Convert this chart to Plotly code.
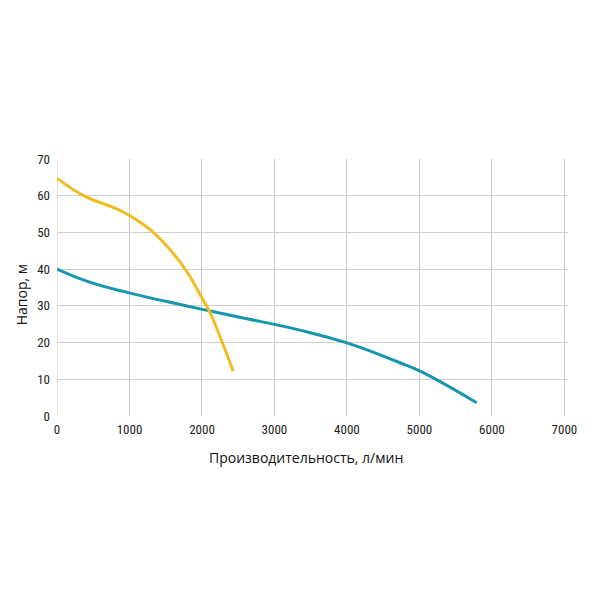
import plotly.graph_objects as go

# Pump curve A (yellow)
flow_a = [0, 380, 800, 1000, 1300, 1560, 1790, 1970, 2110, 2250, 2430]
head_a = [64.8, 59.9, 56.6, 54.6, 50.5, 45.3, 39.4, 33.2, 28.2, 21.6, 12.2]

# Pump curve B (blue)
flow_b = [0, 430, 980, 1530, 2040, 2520, 3350, 4000, 4730, 5010, 5790]
head_b = [40.0, 36.6, 33.6, 31.1, 28.9, 26.9, 23.4, 19.9, 14.5, 12.2, 3.6]

x_ticks = [0, 1000, 2000, 3000, 4000, 5000, 6000, 7000]
y_ticks = [0, 10, 20, 30, 40, 50, 60, 70]

x_title = "Производительность, л/мин"
y_title = "Напор, м"

tick_font = dict(family="Liberation Sans Narrow, Roboto Condensed, Arial Narrow, Roboto, sans-serif",
                 size=13, color="#222222")
title_font = dict(family="Open Sans, Liberation Sans, sans-serif", size=14, color="#111111")

fig = go.Figure()
fig.add_trace(go.Scatter(x=flow_b, y=head_b, mode="lines",
                         line=dict(color="#1596AE", width=3, shape="spline", smoothing=1.3),
                         hoverinfo="skip", showlegend=False))
fig.add_trace(go.Scatter(x=flow_a, y=head_a, mode="lines",
                         line=dict(color="#F0BD22", width=3, shape="spline", smoothing=1.3),
                         hoverinfo="skip", showlegend=False))

fig.update_layout(
    width=600, height=600,
    margin=dict(l=57.3, r=32.1, t=159, b=184),
    paper_bgcolor="white", plot_bgcolor="white",
    showlegend=False,
    xaxis=dict(range=[0, 7050], tickvals=x_ticks, ticktext=[str(v) for v in x_ticks],
               showgrid=True, gridcolor="#C8C8C8", gridwidth=1, zeroline=False,
               showline=False, ticks="", tickfont=tick_font, ticklabelstandoff=4),
    yaxis=dict(range=[0, 70], tickvals=y_ticks, ticktext=[str(v) for v in y_ticks],
               showgrid=True, gridcolor="#D0D0D0", gridwidth=1, zeroline=False,
               showline=False, ticks="", tickfont=tick_font, ticklabelstandoff=6),
    annotations=[
        dict(text=x_title, xref="paper", yref="paper", x=0.487, y=-0.163,
             showarrow=False, font=title_font, xanchor="center", yanchor="middle"),
        dict(text=y_title, xref="paper", yref="paper", x=-0.0678, y=0.471,
             showarrow=False, font=title_font, textangle=-90, xanchor="center", yanchor="middle"),
    ],
)

fig.add_shape(type="line", xref="x", yref="paper", x0=0, x1=0, y0=0, y1=1,
              line=dict(color="#C8C8C8", width=1), layer="below")

fig.write_html("out.html")
